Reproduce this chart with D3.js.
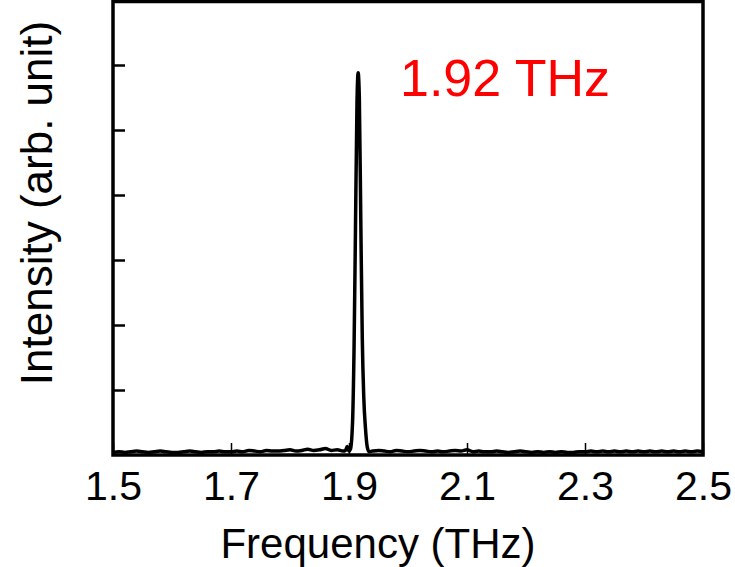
<!DOCTYPE html>
<html>
<head>
<meta charset="utf-8">
<script src="https://cdn.jsdelivr.net/npm/d3@7"></script>
<style>
body {margin:0; background:#fff}
svg text {font-family: Arial, "Liberation Sans", sans-serif}
</style>
</head>
<body>
<svg id="chart" width="735" height="567"></svg>
<script>
/*** Data ***/
// baseline noise, left of peak (1.50 -> 1.89, step 0.01)
var leftFreq = [1.50,1.51,1.52,1.53,1.54,1.55,1.56,1.57,1.58,1.59,1.60,1.61,1.62,1.63,1.64,1.65,1.66,1.67,1.68,1.69,
                1.70,1.71,1.72,1.73,1.74,1.75,1.76,1.77,1.78,1.79,1.80,1.81,1.82,1.83,1.84,1.85,1.86,1.87,1.88,1.89]
var leftVal  = [0.04,0.05,0.04,0.05,0.06,0.05,0.04,0.05,0.06,0.05,0.04,0.04,0.05,0.06,0.05,0.04,0.05,0.05,0.06,0.05,
                0.05,0.06,0.05,0.07,0.06,0.05,0.07,0.06,0.06,0.07,0.08,0.06,0.07,0.09,0.07,0.08,0.10,0.07,0.08,0.06]
// the 1.92 THz peak
var peakFreq = [1.894,1.897,1.900,1.9025,1.906,1.9085,1.911,1.9135,1.9155,1.9175,1.920,1.9225,1.925,1.928,1.931,1.934]
var peakVal  = [0.07, 0.13, 0.06, 0.09,  0.5,  1.6,   3.5,  5.4,   5.88,  5.5,   3.6,  1.8,   0.9,  0.4,  0.12, 0.05]
// baseline noise, right of peak (1.94 -> 2.50, step 0.01)
var rightFreq = [1.94,1.95,1.96,1.97,1.98,1.99,2.00,2.01,2.02,2.03,2.04,2.05,2.06,2.07,2.08,2.09,2.10,2.11,2.12,2.13,
                 2.14,2.15,2.16,2.17,2.18,2.19,2.20,2.21,2.22,2.23,2.24,2.25,2.26,2.27,2.28,2.29,2.30,2.31,2.32,2.33,
                 2.34,2.35,2.36,2.37,2.38,2.39,2.40,2.41,2.42,2.43,2.44,2.45,2.46,2.47,2.48,2.49,2.50]
var rightVal  = [0.06,0.07,0.06,0.05,0.07,0.06,0.05,0.06,0.07,0.06,0.05,0.06,0.05,0.06,0.07,0.06,0.08,0.05,0.06,0.05,
                 0.05,0.06,0.05,0.04,0.05,0.06,0.05,0.04,0.05,0.04,0.05,0.04,0.05,0.04,0.04,0.05,0.05,0.06,0.05,0.06,
                 0.05,0.06,0.05,0.06,0.05,0.06,0.05,0.06,0.05,0.06,0.05,0.06,0.05,0.06,0.05,0.06,0.05]

var xTicks = [1.5,1.7,1.9,2.1,2.3,2.5]
var yTicks = [1,2,3,4,5,6]
var xLabel = "Frequency (THz)"
var yLabel = "Intensity (arb. unit)"
var peakNote = "1.92 THz"

/*** Draw ***/
var svg = d3.select("#chart")
var L = 113, R = 703, T = 0, B = 455

var x = d3.scaleLinear().domain([1.5, 2.5]).range([L, R])
var y = d3.scaleLinear().domain([0, 7]).range([B, T])

var pts = []
leftFreq.forEach((f,i) => pts.push([f, leftVal[i]]))
peakFreq.forEach((f,i) => pts.push([f, peakVal[i]]))
rightFreq.forEach((f,i) => pts.push([f, rightVal[i]]))

var xa = svg.append("g")
            .attr("transform", "translate(0," + B + ")")
            .call(d3.axisBottom(x).tickValues(xTicks).tickFormat(d3.format(".1f"))
                    .tickSizeInner(-12).tickSizeOuter(0).tickPadding(16))
xa.select(".domain").remove()
xa.selectAll("line").attr("stroke", "#000").attr("stroke-width", 1.5)
xa.selectAll("text").attr("font-size", 41).attr("fill", "#000")
  .attr("font-family", "Arial, 'Liberation Sans', sans-serif")

var ya = svg.append("g")
            .attr("transform", "translate(" + L + ",0)")
            .call(d3.axisLeft(y).tickValues(yTicks).tickFormat("").tickSizeInner(-12).tickSizeOuter(0))
ya.select(".domain").remove()
ya.selectAll("line").attr("stroke", "#000").attr("stroke-width", 2.5)

var line = d3.line()
             .x((d) => x(d[0]))
             .y((d) => y(d[1]))
             .curve(d3.curveMonotoneX)

svg.append("path")
   .datum(pts)
   .attr("d", line)
   .attr("fill", "none")
   .attr("stroke", "#000")
   .attr("stroke-width", 3.5)
   .attr("stroke-linejoin", "round")

// frame
svg.append("rect")
   .attr("x", L).attr("y", T + 1.5)
   .attr("width", R - L).attr("height", B - T - 1.5)
   .attr("fill", "none")
   .attr("stroke", "#000")
   .attr("stroke-width", 3.5)

svg.append("text")
   .attr("x", (L + R) / 2 - 30)
   .attr("y", 558)
   .attr("text-anchor", "middle")
   .attr("font-size", 42)
   .text(xLabel)

svg.append("text")
   .attr("transform", "translate(52,203) rotate(-90)")
   .attr("text-anchor", "middle")
   .attr("font-size", 44)
   .text(yLabel)

svg.append("text")
   .attr("x", 400)
   .attr("y", 96)
   .attr("font-size", 52)
   .attr("fill", "#ff0000")
   .text(peakNote)
</script>
</body>
</html>
